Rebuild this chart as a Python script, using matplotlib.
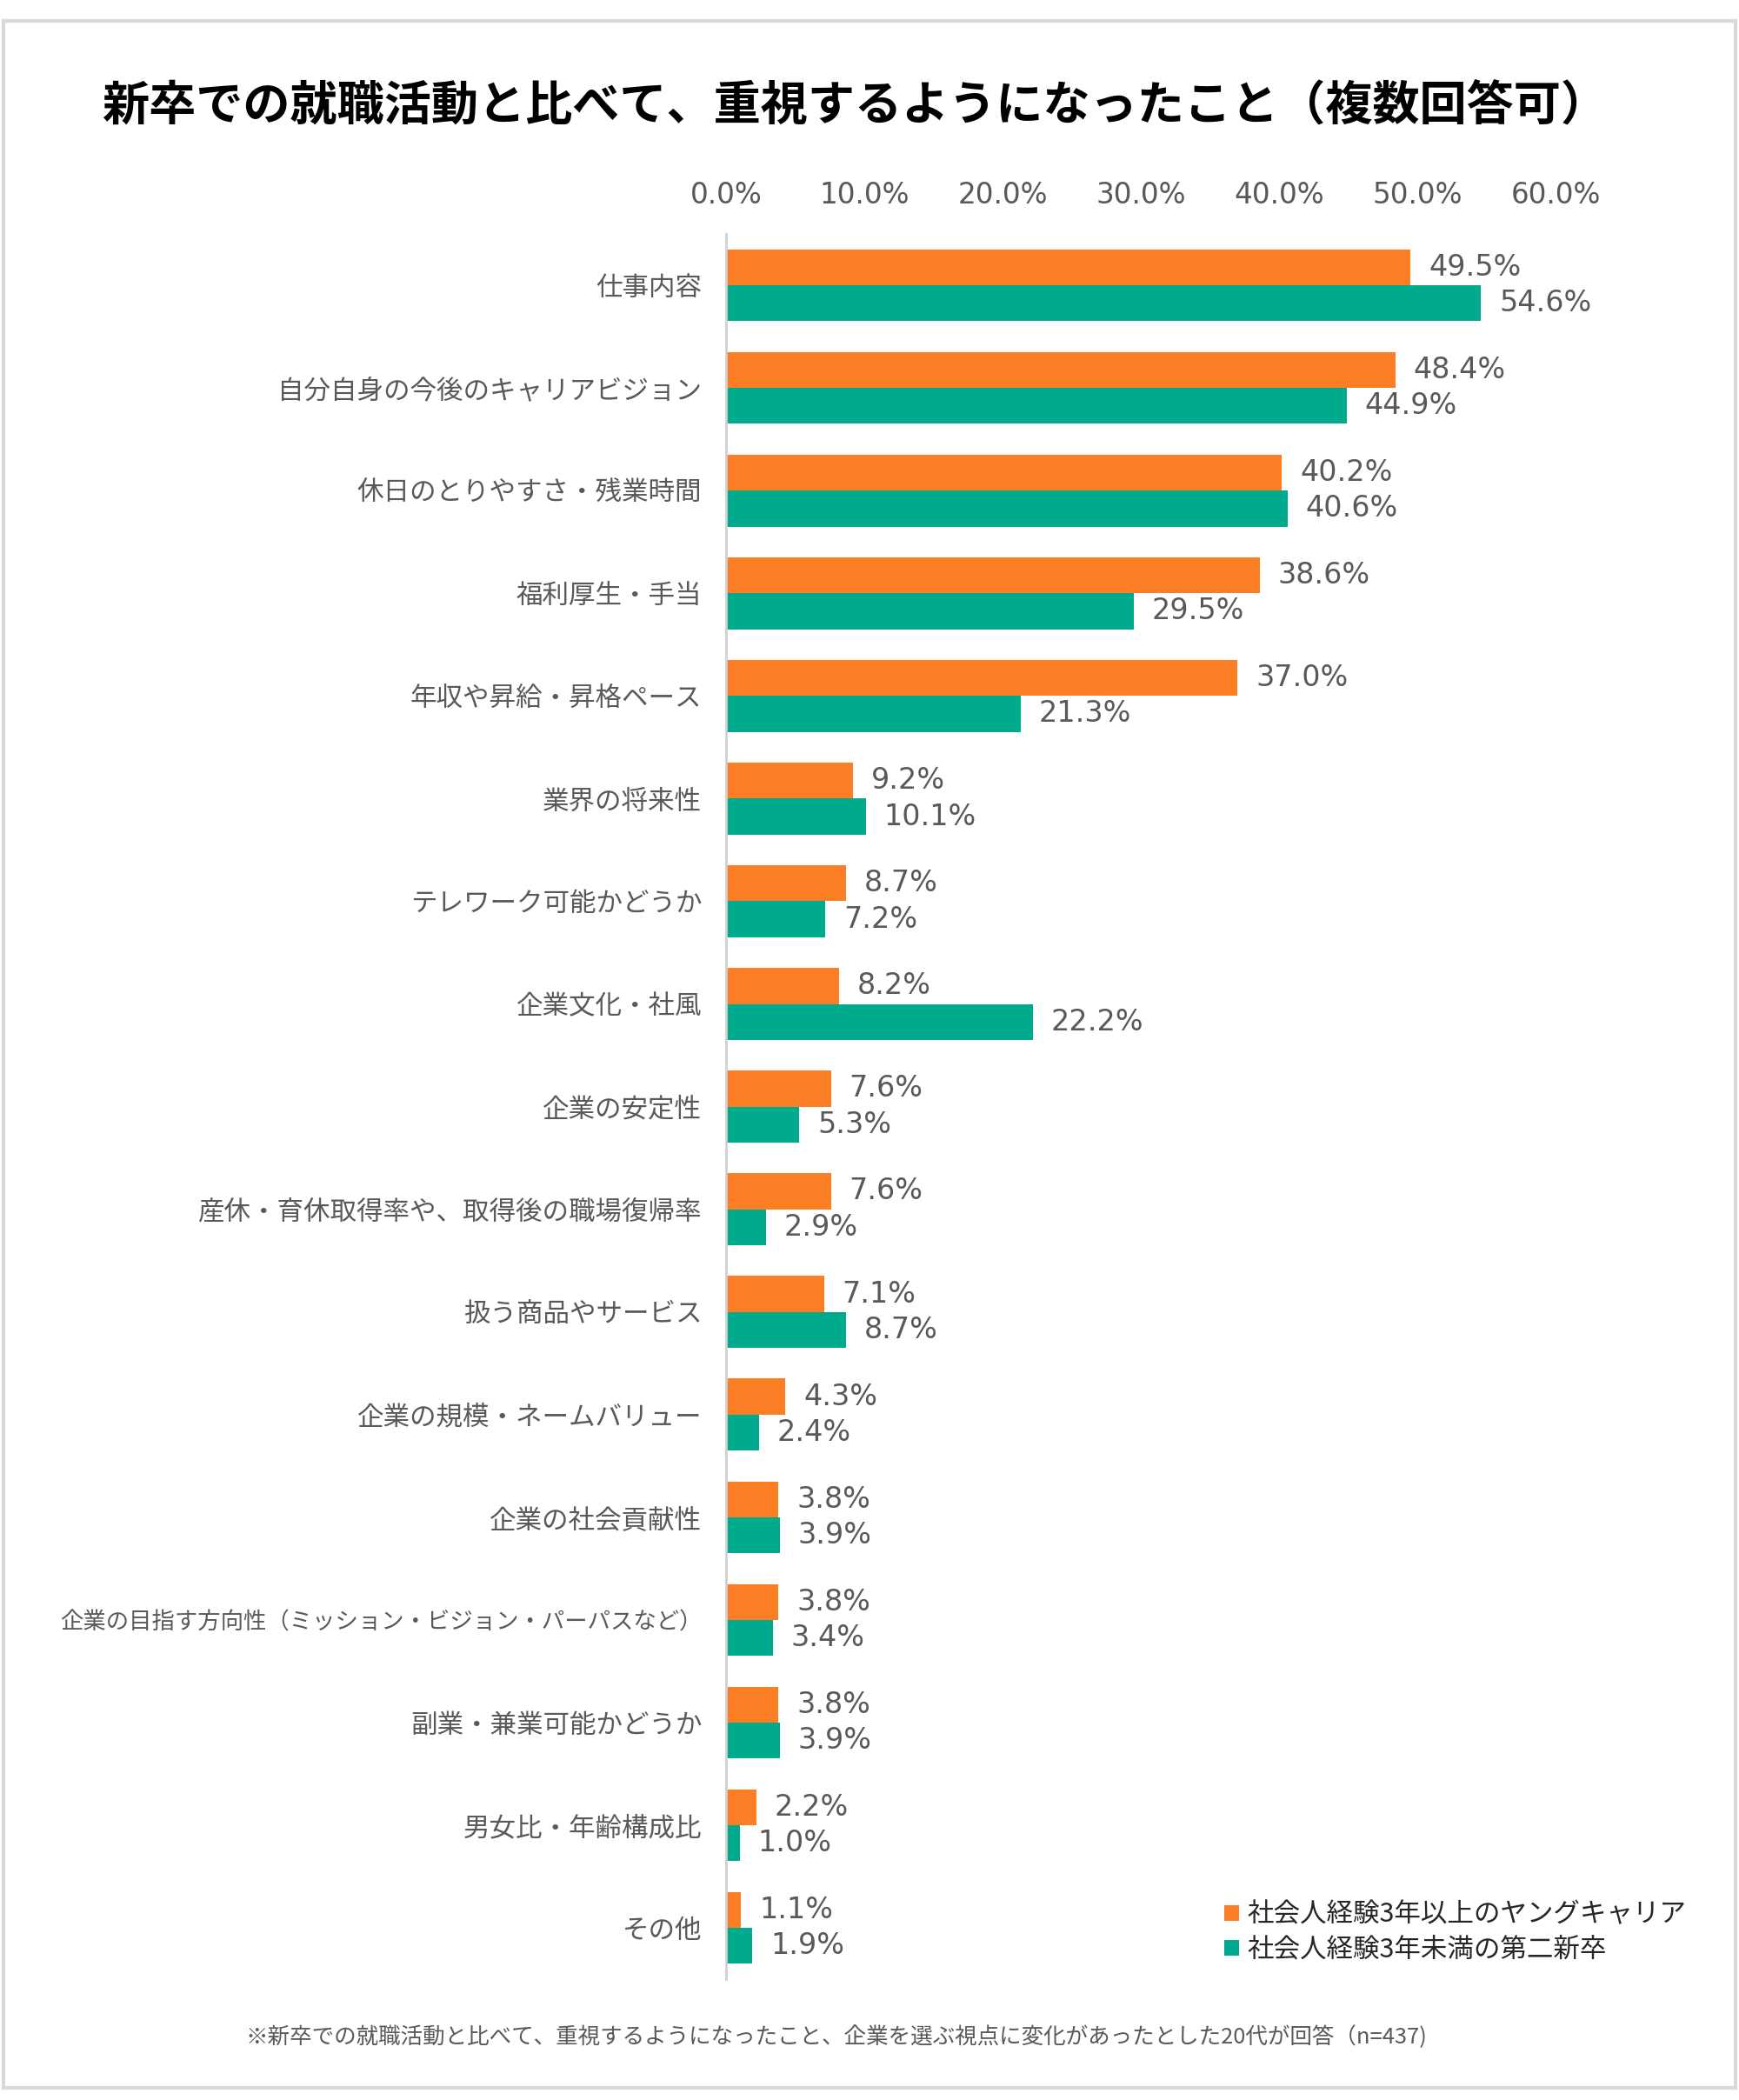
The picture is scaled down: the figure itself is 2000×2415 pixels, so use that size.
import matplotlib
matplotlib.use('Agg')
import matplotlib.pyplot as plt
import numpy as np
from matplotlib.patches import Rectangle

plt.rcParams['font.family'] = ['Noto Sans CJK JP', 'DejaVu Sans']

categories = ['仕事内容', '自分自身の今後のキャリアビジョン', '休日のとりやすさ・残業時間',
              '福利厚生・手当', '年収や昇給・昇格ペース', '業界の将来性',
              'テレワーク可能かどうか', '企業文化・社風', '企業の安定性',
              '産休・育休取得率や、取得後の職場復帰率', '扱う商品やサービス',
              '企業の規模・ネームバリュー', '企業の社会貢献性',
              '企業の目指す方向性（ミッション・ビジョン・パーパスなど）',
              '副業・兼業可能かどうか', '男女比・年齢構成比', 'その他']
young_career = [49.5, 48.4, 40.2, 38.6, 37.0, 9.2, 8.7, 8.2, 7.6, 7.6, 7.1, 4.3, 3.8, 3.8, 3.8, 2.2, 1.1]
second_grad = [54.6, 44.9, 40.6, 29.5, 21.3, 10.1, 7.2, 22.2, 5.3, 2.9, 8.7, 2.4, 3.9, 3.4, 3.9, 1.0, 1.9]
series_names = ['社会人経験3年以上のヤングキャリア', '社会人経験3年未満の第二新卒']
x_ticks = [0, 10, 20, 30, 40, 50, 60]

orange = '#FB7D24'
teal = '#00AA8C'
gray = '#595959'

fig = plt.figure(figsize=(20, 24.15), dpi=100)
ax = fig.add_axes([0.4175, 0.0575, 0.4770, 0.8311])

y = np.arange(len(categories))
h = 0.35
b1 = ax.barh(y - h / 2, young_career, height=h, color=orange, label=series_names[0])
b2 = ax.barh(y + h / 2, second_grad, height=h, color=teal, label=series_names[1])

for bars, vals in ((b1, young_career), (b2, second_grad)):
    ax.bar_label(bars, labels=[f'{v:.1f}%' for v in vals], padding=15,
                 fontsize=24, color=gray, family='DejaVu Sans')

ax.set_ylim(len(categories) - 0.5, -0.5)
ax.set_xlim(0, 60)
ax.set_yticks(y)
ax.set_yticklabels(categories, fontsize=22, color=gray)
# the long label is squeezed a little so it fits inside the frame
for lab in ax.get_yticklabels():
    if len(lab.get_text()) > 22:
        lab.set_fontsize(19)
ax.set_xticks(x_ticks)
ax.set_xticklabels([f'{t:.1f}%' for t in x_ticks], fontsize=23.5, color=gray, family='DejaVu Sans')
ax.xaxis.tick_top()
ax.tick_params(axis='x', length=0, pad=20)
ax.tick_params(axis='y', length=0, pad=20)
for s in ['top', 'right', 'bottom']:
    ax.spines[s].set_visible(False)
ax.spines['left'].set_color('#d0d0d0')
ax.spines['left'].set_linewidth(2)

fig.text(0.4915, 0.949, '新卒での就職活動と比べて、重視するようになったこと（複数回答可）',
         ha='center', va='center', fontsize=39, fontweight='bold', color='black')
fig.text(0.481, 0.030,
         '※新卒での就職活動と比べて、重視するようになったこと、企業を選ぶ視点に変化があったとした20代が回答（n=437)',
         ha='center', va='center', fontsize=18.4, color=gray)

fig.legend(handles=[b1, b2], labels=series_names, loc='lower left',
           bbox_to_anchor=(0.698, 0.060), frameon=False, fontsize=22,
           handlelength=0.55, handleheight=0.55, handletextpad=0.3, labelspacing=0.3,
           labelcolor='#262626', borderaxespad=0)

fig.patches.append(Rectangle((0.002, 0.006), 0.996, 0.984, transform=fig.transFigure,
                             fill=False, edgecolor='#d9d9d9', linewidth=3))

fig.savefig('out.png', dpi=100, facecolor='white')
